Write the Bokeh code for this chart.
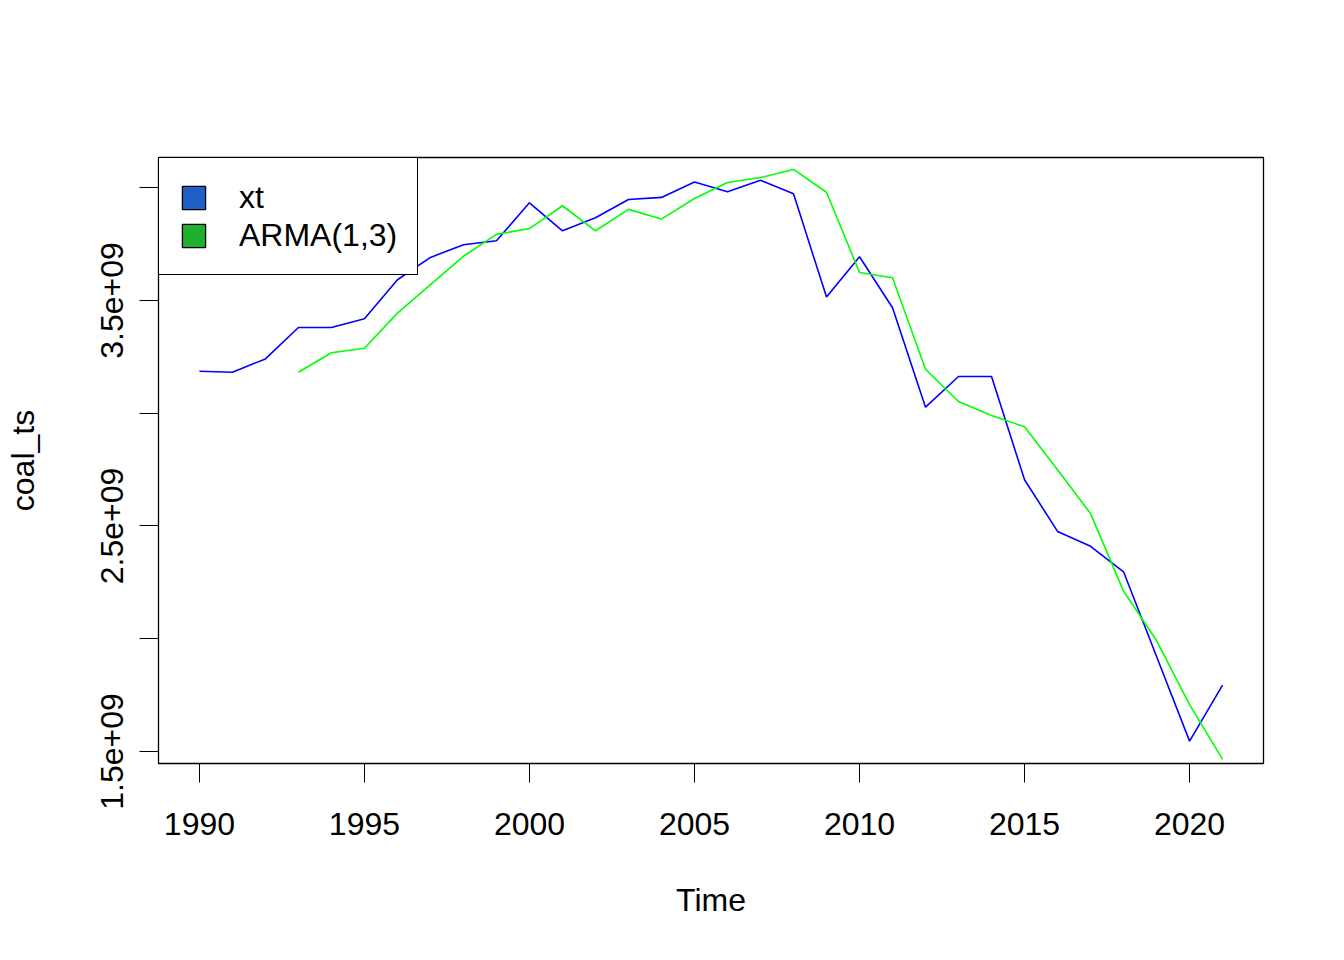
from bokeh.plotting import figure
from bokeh.models import FixedTicker, CustomJSTickFormatter, Legend, Range1d, ColumnDataSource
from bokeh.embed import file_html
from bokeh.resources import INLINE

# ---- data ----
years_xt = list(range(1990, 2022))
xt = [3.186e9, 3.182e9, 3.241e9, 3.380e9, 3.380e9, 3.419e9, 3.592e9, 3.691e9,
      3.747e9, 3.765e9, 3.933e9, 3.809e9, 3.867e9, 3.948e9, 3.957e9, 4.025e9,
      3.982e9, 4.033e9, 3.973e9, 3.515e9, 3.694e9, 3.468e9, 3.027e9, 3.163e9,
      3.163e9, 2.705e9, 2.476e9, 2.410e9, 2.297e9, 1.921e9, 1.546e9, 1.794e9]

years_arma = list(range(1993, 2022))
arma = [3.182e9, 3.268e9, 3.288e9, 3.444e9, 3.570e9, 3.696e9, 3.793e9, 3.819e9,
        3.920e9, 3.809e9, 3.904e9, 3.861e9, 3.952e9, 4.023e9, 4.045e9, 4.081e9,
        3.980e9, 3.624e9, 3.601e9, 3.195e9, 3.052e9, 2.990e9, 2.940e9, 2.749e9,
        2.555e9, 2.211e9, 1.992e9, 1.708e9, 1.465e9]

x_ticks = [1990, 1995, 2000, 2005, 2010, 2015, 2020]
y_ticks = [1.5e9, 2.0e9, 2.5e9, 3.0e9, 3.5e9, 4.0e9]
legend_labels = ["xt", "ARMA(1,3)"]
line_colors = ["#0000FF", "#00FF00"]
legend_fills = ["#1C5FC6", "#1DAF2E"]

FONT = "Liberation Sans"
NAN = float("nan")

p = figure(width=1328, height=944, output_backend="svg", toolbar_location=None,
           x_range=Range1d(1988.76, 2022.24), y_range=Range1d(1.4468e9, 4.134e9),
           min_border_left=158, min_border_right=65, min_border_top=157,
           min_border_bottom=181)

p.grid.visible = False
p.outline_line_color = "black"
p.outline_line_width = 1.3
p.outline_line_alpha = 1.0
p.background_fill_color = "white"
p.border_fill_color = "white"

p.line(years_xt, xt, line_color=line_colors[0], line_width=1.6)
p.line(years_arma, arma, line_color=line_colors[1], line_width=1.6)

# legend swatches (area glyphs with no visible extent)
sw = ColumnDataSource(dict(l=[NAN], r=[NAN], t=[NAN], b=[NAN]))
r1 = p.quad(left="l", right="r", top="t", bottom="b", source=sw,
            fill_color=legend_fills[0], line_color="black", line_width=1.3)
r2 = p.quad(left="l", right="r", top="t", bottom="b", source=sw,
            fill_color=legend_fills[1], line_color="black", line_width=1.3)
legend = Legend(items=[(legend_labels[0], [r1]), (legend_labels[1], [r2])], location="top_left")
legend.margin = 0
legend.padding = 20
legend.spacing = 0
legend.glyph_width = 29
legend.glyph_height = 29
legend.label_height = 38
legend.label_standoff = 31
legend.label_text_font = FONT
legend.label_text_font_size = "32px"
legend.label_text_color = "black"
legend.border_line_color = "black"
legend.border_line_alpha = 1.0
legend.border_line_width = 1.3
legend.background_fill_color = "white"
legend.background_fill_alpha = 1.0
p.add_layout(legend)

# x axis
xa = p.xaxis[0]
xa.ticker = FixedTicker(ticks=x_ticks)
xa.axis_line_color = None
xa.major_tick_out = 19
xa.major_tick_in = 0
xa.major_tick_line_color = "black"
xa.minor_tick_line_color = None
xa.major_label_standoff = 30
xa.major_label_text_font = FONT
xa.major_label_text_font_size = "32px"
xa.major_label_text_color = "black"
xa.axis_label = "Time"
xa.axis_label_text_font = FONT
xa.axis_label_text_font_size = "32px"
xa.axis_label_text_font_style = "normal"
xa.axis_label_text_color = "black"
xa.axis_label_standoff = 44

# y axis
ya = p.yaxis[0]
ya.ticker = FixedTicker(ticks=y_ticks)
ya.formatter = CustomJSTickFormatter(code="""
    const v = tick / 1e9;
    if (Math.abs(v * 2 - Math.round(v * 2)) < 1e-6 && Math.round(v * 2) % 2 == 1) {
        return v.toFixed(1) + "e+09";
    }
    return "";
""")
ya.axis_line_color = None
ya.major_tick_out = 19
ya.major_tick_in = 0
ya.major_tick_line_color = "black"
ya.minor_tick_line_color = None
ya.major_label_orientation = "vertical"
ya.major_label_standoff = 16
ya.major_label_text_font = FONT
ya.major_label_text_font_size = "32px"
ya.major_label_text_color = "black"
ya.axis_label = "coal_ts"
ya.axis_label_text_font = FONT
ya.axis_label_text_font_size = "32px"
ya.axis_label_text_font_style = "normal"
ya.axis_label_text_color = "black"
ya.axis_label_standoff = 58

open("out.html", "w").write(file_html(p, INLINE))
